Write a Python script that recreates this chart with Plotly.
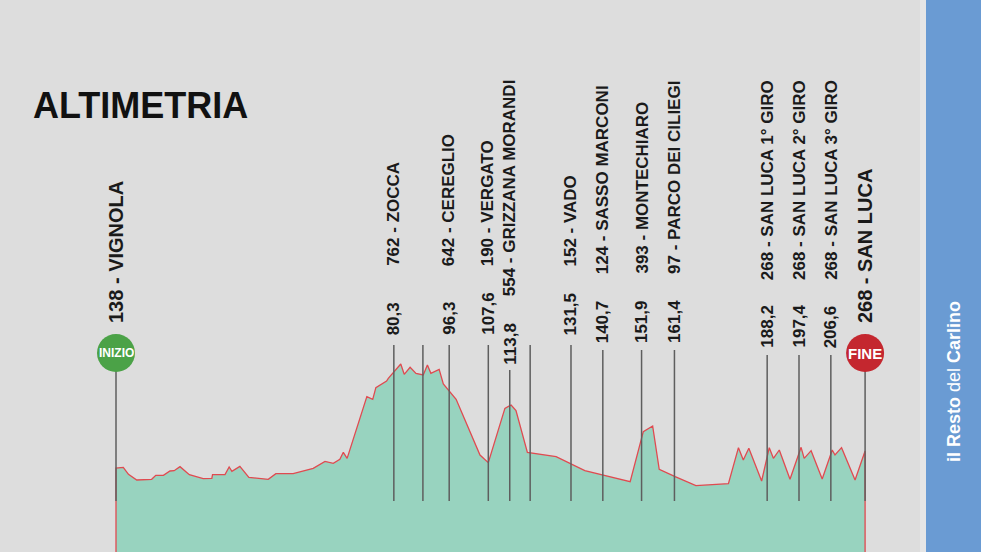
import plotly.graph_objects as go

# ---------------- data ----------------
profile_km = [0, 2.1, 3.6, 6.0, 10.3, 11.5, 13.7, 15.6, 16.8, 18.5, 21.2, 25.2, 27.7, 27.9, 31.5,
              32.7, 33.5, 35.8, 38.4, 44.0, 46.2, 51.2, 57.0, 60.4, 62.8, 64.7, 65.7, 66.8, 72.5, 74.2,
              75.1, 78.2, 78.7, 82.3, 83.3, 85.0, 86.7, 88.8, 90.0, 91.0, 93.4, 94.6, 98.3, 105.2, 107.6,
              112.4, 114.2, 115.6, 118.9, 127.2, 135.5, 148.6, 152.4, 155.1, 157.0, 161.6, 167.6, 177.0,
              179.9, 181.3, 182.9, 186.6, 188.8, 190.0, 191.7, 194.8, 198.0, 198.9, 200.9, 204.1, 207.0,
              207.8, 209.7, 213.6, 216.5]
profile_m = [138, 142, 100, 66, 70, 94, 94, 120, 122, 146, 98, 74, 76, 98, 98,
             144, 118, 148, 82, 70, 104, 104, 136, 178, 166, 190, 232, 196, 566, 550,
             620, 660, 676, 762, 700, 742, 706, 696, 756, 706, 730, 642, 550, 216, 170,
             496, 516, 482, 232, 206, 122, 56, 356, 390, 130, 86, 32, 44,
             260, 186, 256, 60, 260, 196, 246, 70, 262, 196, 242, 72, 246,
             216, 260, 66, 240]

start_km = 0
end_km = 216.5
start_label = "138 - VIGNOLA"
end_label = "268 - SAN LUCA"

point_km = [80.3, 96.3, 107.6, 113.8, 131.5, 140.7, 151.9, 161.4, 188.2, 197.4, 206.6]
point_names = ["762 - ZOCCA", "642 - CEREGLIO", "190 - VERGATO", "554 - GRIZZANA MORANDI",
               "152 - VADO", "124 - SASSO MARCONI", "393 - MONTECHIARO", "97 - PARCO DEI CILIEGI",
               "268 - SAN LUCA 1° GIRO", "268 - SAN LUCA 2° GIRO", "268 - SAN LUCA 3° GIRO"]
extra_line_km = [88.7, 119.7]

# ---------------- styling (pixel positions) ----------------
W, H = 981, 552
FONT = "Liberation Sans, Arial, sans-serif"
line_top_px = [345, 345, 345, 370, 345, 350, 350, 350, 355, 355, 355]
km_bottom_px = [337, 337, 337, 367, 337, 345, 345, 345, 350, 350, 350]
name_bottom_px = [268, 268, 268, 298, 268, 276, 276, 276, 282, 282, 282]
LINE_BOTTOM = 501


def py(px):
    return 1 - px / H


def fmt(v):
    return f"{v:.1f}".replace(".", ",")


fig = go.Figure()

# elevation profile (closed polygon reaching below the visible area)
fig.add_trace(go.Scatter(
    x=[start_km] + profile_km + [end_km],
    y=[-600] + profile_m + [-600],
    mode="lines", fill="toself",
    fillcolor="#98d3bf",
    line=dict(color="#e04a50", width=1.3),
    hoverinfo="skip",
))

shapes = []
annotations = []

# vertical marker lines
for i, k in enumerate(point_km):
    shapes.append(dict(type="line", xref="x", yref="paper", x0=k, x1=k,
                       y0=py(line_top_px[i]), y1=py(LINE_BOTTOM),
                       line=dict(color="#5e5e5e", width=1.5)))
    annotations.append(dict(xref="x", yref="paper", x=k, y=py(km_bottom_px[i]),
                            text=f"<b>{fmt(k)}</b>", textangle=-90, showarrow=False,
                            xanchor="center", yanchor="bottom",
                            font=dict(family=FONT, size=17, color="#1a1a1a")))
    annotations.append(dict(xref="x", yref="paper", x=k, y=py(name_bottom_px[i]),
                            text=f"<b>{point_names[i]}</b>", textangle=-90, showarrow=False,
                            xanchor="center", yanchor="bottom",
                            font=dict(family=FONT, size=17, color="#1a1a1a")))
for k in extra_line_km:
    shapes.append(dict(type="line", xref="x", yref="paper", x0=k, x1=k,
                       y0=py(345), y1=py(LINE_BOTTOM),
                       line=dict(color="#5e5e5e", width=1.5)))

# start / finish lines and circles
for k, col, txt, fs in [(start_km, "#4ba247", "INIZIO", 12), (end_km, "#c4272f", "FINE", 15)]:
    shapes.append(dict(type="line", xref="x", yref="paper", x0=k, x1=k,
                       y0=py(370), y1=py(LINE_BOTTOM),
                       line=dict(color="#5e5e5e", width=1.5)))
    shapes.append(dict(type="circle", xref="x", yref="paper",
                       xsizemode="pixel", ysizemode="pixel",
                       xanchor=k, yanchor=py(353), x0=-19, x1=19, y0=-19, y1=19,
                       fillcolor=col, line=dict(width=0)))
    annotations.append(dict(xref="x", yref="paper", x=k, y=py(353), text=f"<b>{txt}</b>",
                            showarrow=False, xanchor="center", yanchor="middle",
                            font=dict(family=FONT, size=fs, color="white")))

annotations.append(dict(xref="x", yref="paper", x=start_km, y=py(325),
                        text=f"<b>{start_label}</b>", textangle=-90, showarrow=False,
                        xanchor="center", yanchor="bottom",
                        font=dict(family=FONT, size=20, color="#1a1a1a")))
annotations.append(dict(xref="x", yref="paper", x=end_km, y=py(325),
                        text=f"<b>{end_label}</b>", textangle=-90, showarrow=False,
                        xanchor="center", yanchor="bottom",
                        font=dict(family=FONT, size=20, color="#1a1a1a")))

# title
annotations.append(dict(xref="paper", yref="paper", x=31 / W, y=py(105),
                        text="<b>ALTIMETRIA</b>", showarrow=False,
                        xanchor="left", yanchor="middle",
                        font=dict(family=FONT, size=36, color="#111111")))

# right brand bar
shapes.append(dict(type="rect", xref="paper", yref="paper", x0=920 / W, x1=926 / W, y0=0, y1=1,
                   fillcolor="#e6e6e6", line=dict(width=0), layer="below"))
shapes.append(dict(type="rect", xref="paper", yref="paper", x0=926 / W, x1=1, y0=0, y1=1,
                   fillcolor="#6a9bd3", line=dict(width=0), layer="below"))
annotations.append(dict(xref="paper", yref="paper", x=954 / W, y=py(382),
                        text="<b>il Resto</b> del <b>Carlino</b>", textangle=-90, showarrow=False,
                        xanchor="center", yanchor="middle",
                        font=dict(family=FONT, size=18, color="white")))

fig.update_layout(
    width=W, height=H,
    margin=dict(l=0, r=0, t=0, b=0),
    paper_bgcolor="#dddddd", plot_bgcolor="#dddddd",
    showlegend=False,
    xaxis=dict(range=[-116 / 3.46, (W - 116) / 3.46], visible=False, fixedrange=True),
    yaxis=dict(range=[-366, 2946], visible=False, fixedrange=True),
    shapes=shapes,
    annotations=annotations,
    hovermode=False,
)

fig.write_html("out.html", config={"displayModeBar": False})
